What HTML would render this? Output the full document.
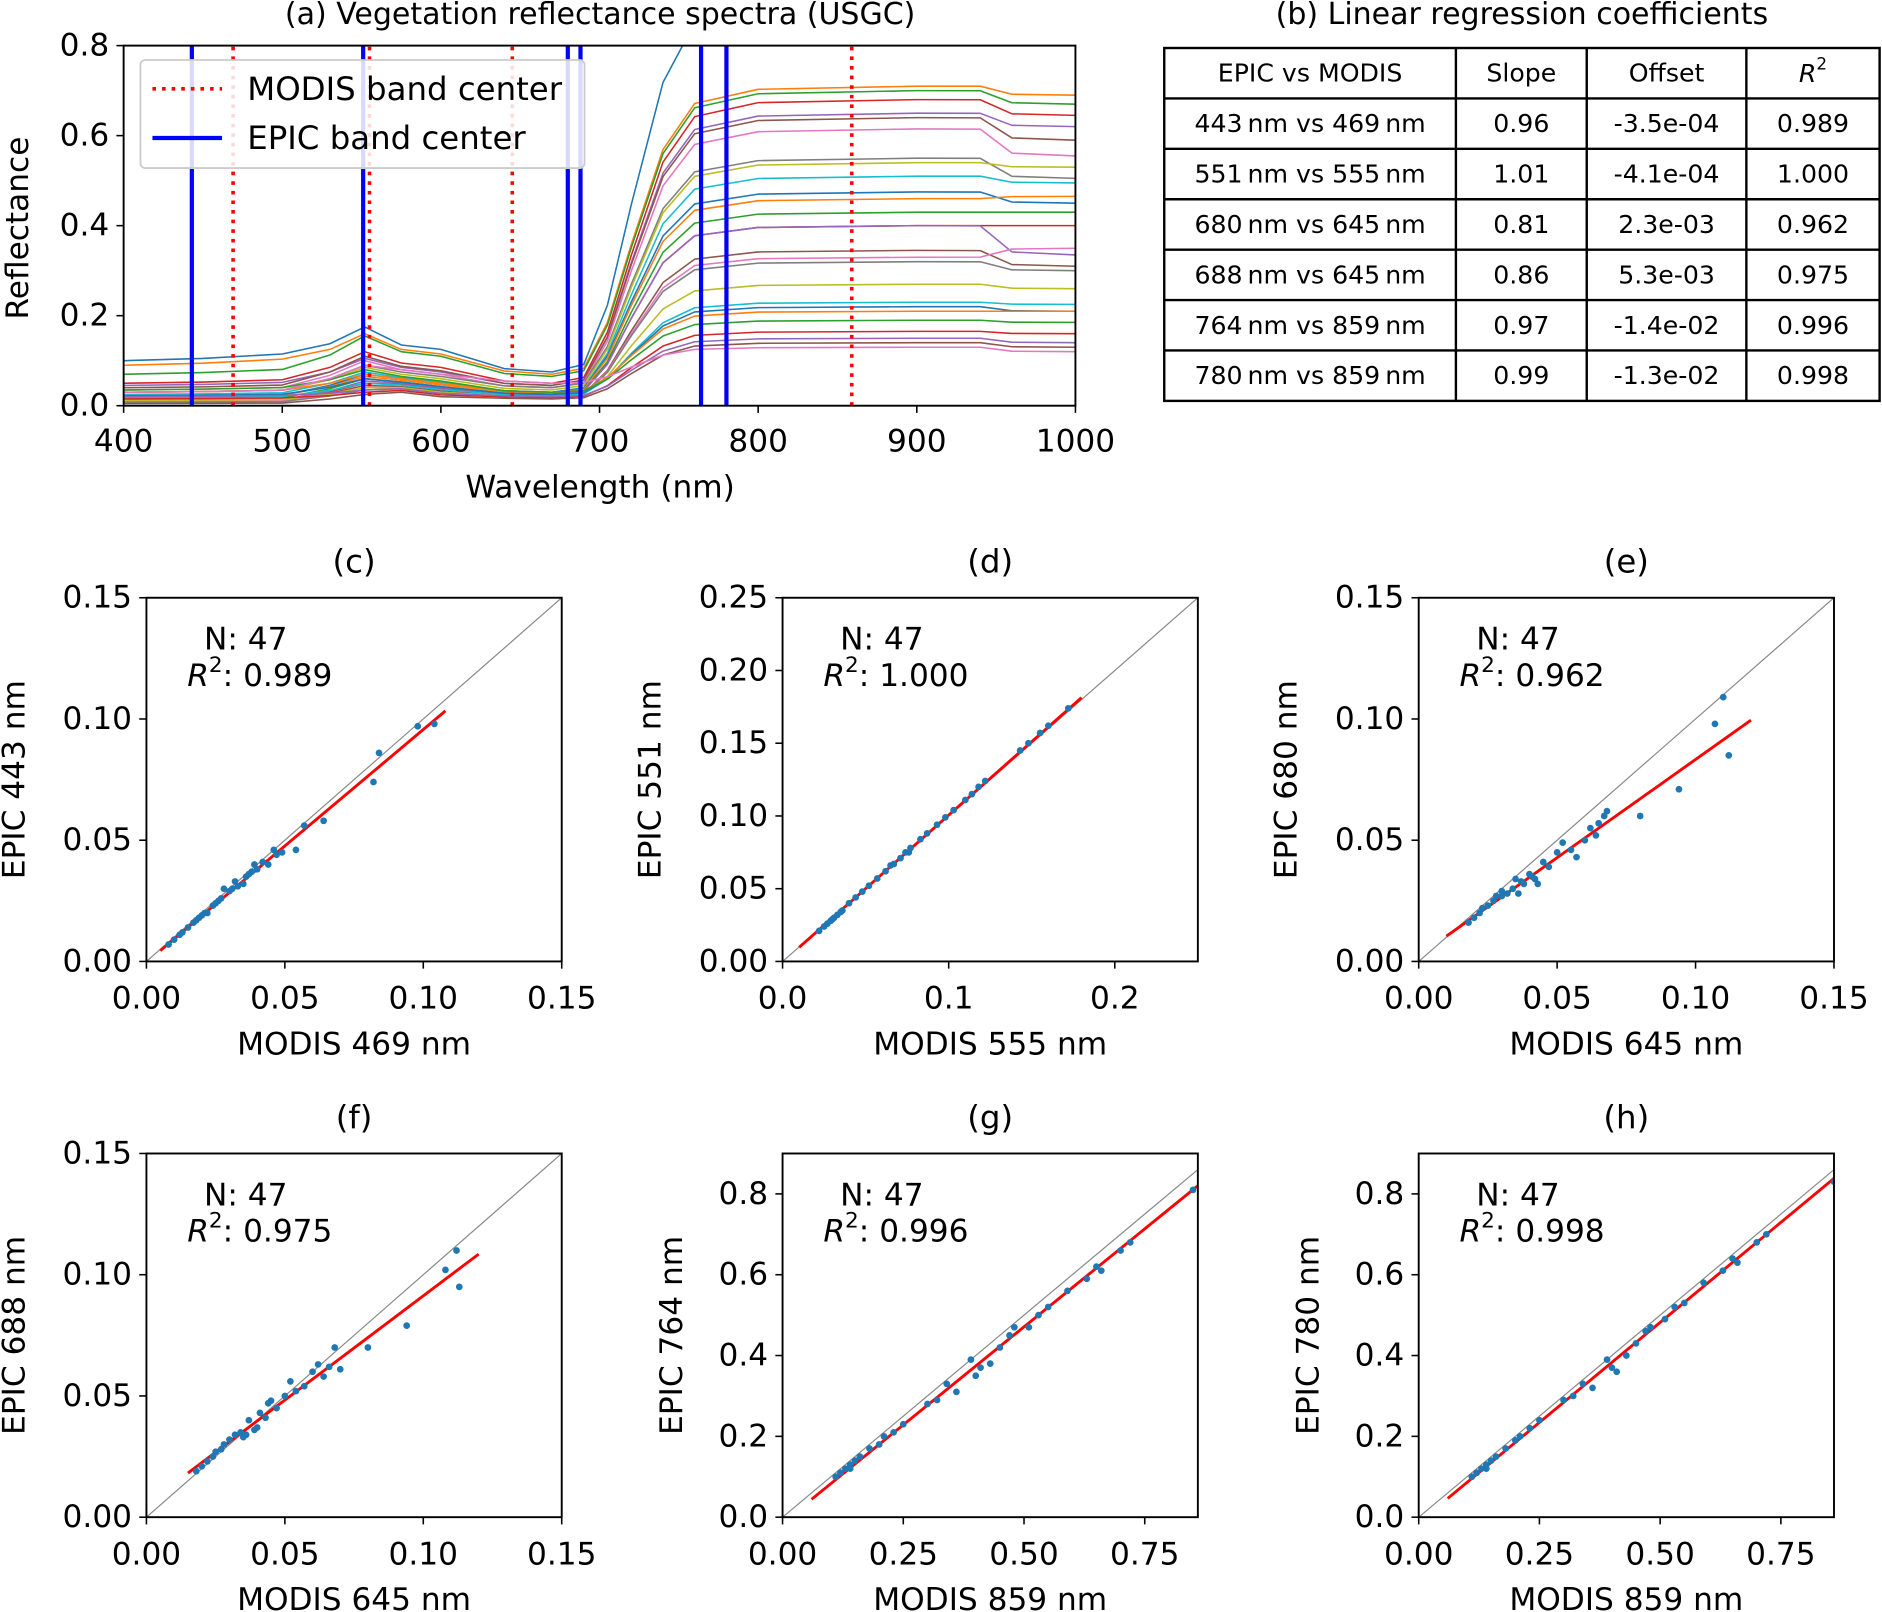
<!DOCTYPE html>
<html><head><meta charset="utf-8"><style>
html,body{margin:0;padding:0;background:#fff;}
svg{display:block;font-family:"DejaVu Sans","Liberation Sans",sans-serif;}
</style></head><body>
<svg id="fig" width="1882" height="1612" viewBox="0 0 1568 1343" preserveAspectRatio="none" xmlns="http://www.w3.org/2000/svg"></svg>
<script>
// ---------- Panel (a) data ----------
const specBlue  = [0.10,0.09,0.07,0.05,0.045,0.04,0.035,0.03,0.03,0.025,0.02,0.02,0.015,0.012,0.01,0.01,0.01,0.008,0.012,0.018,0.022,0.03,0.035,0.015,0.02,0.005,0.03];
const specGreen = [0.175,0.16,0.155,0.12,0.105,0.11,0.10,0.09,0.085,0.075,0.07,0.065,0.06,0.05,0.055,0.045,0.04,0.035,0.04,0.05,0.06,0.07,0.08,0.03,0.035,0.025,0.09];
const specRed   = [0.075,0.07,0.065,0.05,0.045,0.045,0.04,0.04,0.035,0.03,0.03,0.028,0.025,0.025,0.025,0.02,0.02,0.02,0.02,0.022,0.025,0.03,0.03,0.018,0.02,0.015,0.05];
const specNir   = [0.9,0.71,0.70,0.68,0.65,0.64,0.615,0.55,0.54,0.51,0.475,0.46,0.43,0.40,0.40,0.345,0.33,0.32,0.27,0.23,0.22,0.21,0.19,0.165,0.15,0.14,0.13];
const specEnd   = [0.9,0.69,0.67,0.645,0.62,0.59,0.555,0.505,0.53,0.495,0.45,0.465,0.43,0.40,0.335,0.31,0.35,0.30,0.26,0.225,0.21,0.21,0.185,0.16,0.14,0.13,0.12];
const modisBands = [469,555,645,859];
const epicBands  = [443,551,680,688,764,780];
const axAXTicks = [400,500,600,700,800,900,1000];
const axAYTicks = [0.0,0.2,0.4,0.6,0.8];
// ---------- Table ----------
const tabRows = [
 ["443\u2009nm vs 469\u2009nm","0.96","-3.5e-04","0.989"],
 ["551\u2009nm vs 555\u2009nm","1.01","-4.1e-04","1.000"],
 ["680\u2009nm vs 645\u2009nm","0.81","2.3e-03","0.962"],
 ["688\u2009nm vs 645\u2009nm","0.86","5.3e-03","0.975"],
 ["764\u2009nm vs 859\u2009nm","0.97","-1.4e-02","0.996"],
 ["780\u2009nm vs 859\u2009nm","0.99","-1.3e-02","0.998"]];
// ---------- Scatter data ----------
const cX=[0.008,0.010,0.012,0.013,0.015,0.017,0.018,0.020,0.022,0.024,0.025,0.027,0.028,0.030,0.032,0.033,0.035,0.036,0.038,0.039,0.040,0.042,0.044,0.046,0.047,0.049,0.054,0.057,0.064,0.082,0.084,0.098,0.104,0.019,0.021,0.026,0.031,0.037];
const cY=[0.007,0.009,0.011,0.012,0.014,0.016,0.017,0.019,0.020,0.023,0.024,0.026,0.030,0.029,0.033,0.031,0.032,0.035,0.037,0.040,0.038,0.041,0.040,0.046,0.044,0.045,0.046,0.056,0.058,0.074,0.086,0.097,0.098,0.018,0.020,0.025,0.030,0.036];
const dX=[0.022,0.025,0.027,0.029,0.031,0.033,0.036,0.040,0.044,0.048,0.052,0.057,0.062,0.067,0.071,0.074,0.077,0.083,0.087,0.093,0.098,0.103,0.110,0.114,0.118,0.122,0.143,0.148,0.155,0.160,0.172,0.030,0.035,0.076,0.065];
const dY=[0.021,0.024,0.026,0.028,0.030,0.032,0.035,0.040,0.044,0.048,0.052,0.057,0.062,0.067,0.071,0.075,0.078,0.084,0.088,0.094,0.099,0.104,0.111,0.115,0.120,0.124,0.145,0.150,0.157,0.162,0.174,0.029,0.034,0.075,0.066];
const eX=[0.018,0.020,0.022,0.023,0.025,0.027,0.028,0.030,0.032,0.034,0.035,0.037,0.038,0.040,0.041,0.042,0.043,0.045,0.047,0.050,0.052,0.055,0.057,0.060,0.062,0.064,0.065,0.067,0.068,0.080,0.094,0.107,0.110,0.112,0.036,0.030];
const eY=[0.016,0.018,0.020,0.022,0.023,0.025,0.027,0.029,0.028,0.030,0.034,0.033,0.032,0.036,0.035,0.034,0.032,0.041,0.039,0.045,0.049,0.046,0.043,0.050,0.055,0.052,0.057,0.060,0.062,0.060,0.071,0.098,0.109,0.085,0.028,0.027];
const fX=[0.018,0.020,0.022,0.024,0.025,0.027,0.028,0.030,0.032,0.034,0.035,0.037,0.039,0.040,0.041,0.043,0.045,0.047,0.050,0.052,0.054,0.057,0.060,0.062,0.064,0.066,0.068,0.070,0.080,0.094,0.108,0.112,0.113,0.036,0.044];
const fY=[0.019,0.021,0.023,0.025,0.027,0.028,0.030,0.032,0.034,0.035,0.033,0.040,0.036,0.037,0.043,0.041,0.048,0.045,0.050,0.056,0.052,0.054,0.060,0.063,0.058,0.062,0.070,0.061,0.070,0.079,0.102,0.110,0.095,0.034,0.047];
const gX=[0.11,0.12,0.13,0.14,0.15,0.16,0.18,0.20,0.21,0.23,0.25,0.30,0.32,0.34,0.36,0.39,0.40,0.41,0.43,0.45,0.47,0.48,0.51,0.53,0.55,0.59,0.63,0.65,0.66,0.70,0.72,0.85,0.12,0.14];
const gY=[0.10,0.11,0.12,0.13,0.14,0.15,0.17,0.18,0.20,0.21,0.23,0.28,0.29,0.33,0.31,0.39,0.35,0.37,0.38,0.42,0.45,0.47,0.47,0.50,0.52,0.56,0.59,0.62,0.61,0.66,0.68,0.81,0.11,0.12];
const hX=[0.11,0.12,0.13,0.14,0.15,0.16,0.18,0.20,0.21,0.23,0.25,0.30,0.32,0.34,0.36,0.39,0.40,0.41,0.43,0.45,0.47,0.48,0.51,0.53,0.55,0.59,0.63,0.65,0.66,0.70,0.72,0.86,0.12,0.14];
const hY=[0.10,0.11,0.12,0.13,0.14,0.15,0.17,0.19,0.20,0.22,0.24,0.29,0.30,0.33,0.32,0.39,0.37,0.36,0.40,0.43,0.46,0.47,0.49,0.52,0.53,0.58,0.61,0.64,0.63,0.68,0.70,0.83,0.11,0.12];

const NS="http://www.w3.org/2000/svg";
const svg=document.getElementById('fig');
const FS=26;
function el(tag,attrs,parent){
  const e=document.createElementNS(NS,tag);
  for(const k in attrs) e.setAttribute(k,attrs[k]);
  (parent||svg).appendChild(e);
  return e;
}
function txt(x,y,s,size,anchor,parent,extra){
  const t=el('text',Object.assign({x:x,y:y,'font-size':size,'text-anchor':anchor||'middle','dominant-baseline':'central',fill:'#000'},extra||{}),parent);
  t.textContent=s;
  return t;
}
const colors=['#1f77b4','#ff7f0e','#2ca02c','#d62728','#9467bd','#8c564b','#e377c2','#7f7f7f','#bcbd22','#17becf'];

// ---------- Panel (a) ----------
const A={x0:103,x1:896,y0:338,y1:38};
const ax=w=>A.x0+(w-400)/600*(A.x1-A.x0);
const ay=v=>A.y0-v/0.8*(A.y0-A.y1);
const gA=el('g',{});


const clipA=el('clipPath',{id:'clipA'},gA);
el('rect',{x:A.x0,y:A.y1,width:A.x1-A.x0,height:A.y0-A.y1},clipA);
const curvesG=el('g',{'clip-path':'url(#clipA)'},gA);
const wl=[400,450,500,530,552,575,600,640,670,690,705,720,740,760,800,900,940,960,1000];
for(let i=0;i<specNir.length;i++){
  const b=specBlue[i],g=specGreen[i],r=specRed[i],n=specNir[i],e=specEnd[i];
  const vals=[b,b*1.05,b*1.15,(b+g)/2,g,(g+r)/2+0.01,(g+r)/2,r*1.1,r,r+0.02*(n-r),r+0.18*(n-r),r+0.45*(n-r),r+0.78*(n-r),r+0.94*(n-r),n*0.99,n,n*0.99+e*0.01,(n+e)/2+(e-n)*0.4,e];
  const pts=wl.map((w,k)=>ax(w).toFixed(1)+','+ay(vals[k]).toFixed(1)).join(' ');
  const p=el('polyline',{points:pts,fill:'none',stroke:colors[i%10],'stroke-width':1.3,'stroke-linejoin':'round'},curvesG);
  
  
}
modisBands.forEach(w=>{
  const l=el('line',{x1:ax(w),x2:ax(w),y1:A.y0,y2:A.y1,stroke:'#ff0000','stroke-width':3,'stroke-dasharray':'3,5'},gA);
  
  
});
epicBands.forEach(w=>{
  const l=el('line',{x1:ax(w),x2:ax(w),y1:A.y0,y2:A.y1,stroke:'#0000ff','stroke-width':3.5},gA);
  
  
});
el('rect',{x:A.x0,y:A.y1,width:A.x1-A.x0,height:A.y0-A.y1,fill:'none',stroke:'#000','stroke-width':1.6},gA);
axAXTicks.forEach(t=>{el('line',{x1:ax(t),x2:ax(t),y1:A.y0,y2:A.y0+6,stroke:'#000','stroke-width':1.3},gA);txt(ax(t),368,String(t),FS,'middle',gA);});
axAYTicks.forEach(t=>{el('line',{x1:A.x0-6,x2:A.x0,y1:ay(t),y2:ay(t),stroke:'#000','stroke-width':1.3},gA);txt(A.x0-12,ay(t),t.toFixed(1),FS,'end',gA);});
const ta=txt(500,12,'(a) Vegetation reflectance spectra (USGC)',25,'middle',gA);


const xta=txt(500,406,'Wavelength (nm)',FS,'middle',gA);


const yta=txt(15,190,'Reflectance',FS,'middle',gA,{transform:'rotate(-90 15 190)'});


const lg=el('g',{},gA);


el('rect',{x:117,y:50,width:370,height:90,rx:4,fill:'#fff','fill-opacity':0.85,stroke:'#ccc','stroke-width':1.5},lg);
el('line',{x1:127,x2:185,y1:74,y2:74,stroke:'#ff0000','stroke-width':3,'stroke-dasharray':'3,5'},lg);
txt(206,74,'MODIS band center',27,'start',lg);
el('line',{x1:127,x2:185,y1:115,y2:115,stroke:'#0000ff','stroke-width':3.5},lg);
txt(206,115,'EPIC band center',27,'start',lg);

// ---------- Table (b) ----------
const gT=el('g',{});


txt(1268,12,'(b) Linear regression coefficients',25,'middle',gT);
const cols=[970,1213,1322,1455,1566];
const rowH=42,ty0=40;
el('rect',{x:970,y:ty0,width:596,height:rowH*7,fill:'none',stroke:'#000','stroke-width':2},gT);
for(let r=1;r<7;r++) el('line',{x1:970,x2:1566,y1:ty0+r*rowH,y2:ty0+r*rowH,stroke:'#000','stroke-width':2},gT);
for(let c=1;c<4;c++) el('line',{x1:cols[c],x2:cols[c],y1:ty0,y2:ty0+7*rowH,stroke:'#000','stroke-width':2},gT);
const hdr=['EPIC vs MODIS','Slope','Offset',''];
hdr.forEach((h,c)=>{ if(h) txt((cols[c]+cols[c+1])/2,ty0+rowH/2,h,21,'middle',gT); });
const rh=el('text',{x:(cols[3]+cols[4])/2,y:ty0+rowH/2,'font-size':21,'text-anchor':'middle','dominant-baseline':'central'},gT);
const rh1=el('tspan',{'font-style':'italic'},rh); rh1.textContent='R';
const rh2=el('tspan',{dy:-8,'font-size':14},rh); rh2.textContent='2';
tabRows.forEach((row,r)=>row.forEach((v,c)=>txt((cols[c]+cols[c+1])/2,ty0+(r+1.5)*rowH,v,21,'middle',gT)));

// ---------- Scatter panels ----------
const panels=[
 {id:'c',x0:122,y0:801,xs:cX,ys:cY,max:0.15,ymax:0.15,xt:[0,0.05,0.10,0.15],xl:['0.00','0.05','0.10','0.15'],yt:[0,0.05,0.10,0.15],yl:['0.00','0.05','0.10','0.15'],s:0.96,o:-0.00035,l0:0.005,l1:0.108,r2:'0.989',xlab:'MODIS 469 nm',ylab:'EPIC 443 nm',yx:12},
 {id:'d',x0:652,y0:801,xs:dX,ys:dY,max:0.25,ymax:0.25,xt:[0,0.1,0.2],xl:['0.0','0.1','0.2'],yt:[0,0.05,0.10,0.15,0.20,0.25],yl:['0.00','0.05','0.10','0.15','0.20','0.25'],s:1.01,o:-0.00041,l0:0.01,l1:0.18,r2:'1.000',xlab:'MODIS 555 nm',ylab:'EPIC 551 nm',yx:542},
 {id:'e',x0:1182,y0:801,xs:eX,ys:eY,max:0.15,ymax:0.15,xt:[0,0.05,0.10,0.15],xl:['0.00','0.05','0.10','0.15'],yt:[0,0.05,0.10,0.15],yl:['0.00','0.05','0.10','0.15'],s:0.81,o:0.0023,l0:0.01,l1:0.12,r2:'0.962',xlab:'MODIS 645 nm',ylab:'EPIC 680 nm',yx:1072},
 {id:'f',x0:122,y0:1264,xs:fX,ys:fY,max:0.15,ymax:0.15,xt:[0,0.05,0.10,0.15],xl:['0.00','0.05','0.10','0.15'],yt:[0,0.05,0.10,0.15],yl:['0.00','0.05','0.10','0.15'],s:0.86,o:0.0053,l0:0.015,l1:0.12,r2:'0.975',xlab:'MODIS 645 nm',ylab:'EPIC 688 nm',yx:12},
 {id:'g',x0:652,y0:1264,xs:gX,ys:gY,max:0.86,ymax:0.9,xt:[0,0.25,0.5,0.75],xl:['0.00','0.25','0.50','0.75'],yt:[0,0.2,0.4,0.6,0.8],yl:['0.0','0.2','0.4','0.6','0.8'],s:0.97,o:-0.014,l0:0.06,l1:0.9,r2:'0.996',xlab:'MODIS 859 nm',ylab:'EPIC 764 nm',yx:560},
 {id:'h',x0:1182,y0:1264,xs:hX,ys:hY,max:0.86,ymax:0.9,xt:[0,0.25,0.5,0.75],xl:['0.00','0.25','0.50','0.75'],yt:[0,0.2,0.4,0.6,0.8],yl:['0.0','0.2','0.4','0.6','0.8'],s:0.99,o:-0.013,l0:0.06,l1:0.9,r2:'0.998',xlab:'MODIS 859 nm',ylab:'EPIC 780 nm',yx:1090}];
const W=346,H=303;
panels.forEach(P=>{
  const g=el('g',{});
  
  
  const sx=v=>P.x0+v/P.max*W, sy=v=>P.y0-v/P.ymax*H;
  const cid='clip'+P.id;
  const cp=el('clipPath',{id:cid},g);
  el('rect',{x:P.x0,y:P.y0-H,width:W,height:H},cp);
  const inner=el('g',{'clip-path':'url(#'+cid+')'},g);
  el('line',{x1:sx(0),y1:sy(0),x2:sx(1),y2:sy(1),stroke:'#888','stroke-width':1},inner);
  const rl=el('line',{x1:sx(P.l0),y1:sy(P.s*P.l0+P.o),x2:sx(P.l1),y2:sy(P.s*P.l1+P.o),stroke:'#ff0000','stroke-width':2.4},inner);
  
  
  P.xs.forEach((v,i)=>{
    const c=el('circle',{cx:sx(v),cy:sy(P.ys[i]),r:2.8,fill:'#1f77b4'},inner);
    
    
  });
  el('rect',{x:P.x0,y:P.y0-H,width:W,height:H,fill:'none',stroke:'#000','stroke-width':1.6},g);
  P.xt.forEach((t,i)=>{el('line',{x1:sx(t),x2:sx(t),y1:P.y0,y2:P.y0+6,stroke:'#000','stroke-width':1.3},g);txt(sx(t),P.y0+31,P.xl[i],FS,'middle',g);});
  P.yt.forEach((t,i)=>{el('line',{x1:P.x0-6,x2:P.x0,y1:sy(t),y2:sy(t),stroke:'#000','stroke-width':1.3},g);txt(P.x0-12,sy(t),P.yl[i],FS,'end',g);});
  const pt=txt(P.x0+W/2,P.y0-H-30,'('+P.id+')',27,'middle',g);
  
  
  const xt=txt(P.x0+W/2,P.y0+69,P.xlab,FS,'middle',g);
  
  
  const yt=txt(P.yx,P.y0-H/2,P.ylab,FS,'middle',g,{transform:'rotate(-90 '+P.yx+' '+(P.y0-H/2)+')'});
  
  
  txt(P.x0+48,P.y0-H+35,'N: 47',FS,'start',g);
  const r2=el('text',{x:P.x0+34,y:P.y0-H+65,'font-size':FS,'dominant-baseline':'central'},g);
  const a1=el('tspan',{'font-style':'italic'},r2); a1.textContent='R';
  const a2=el('tspan',{dy:-9,'font-size':18},r2); a2.textContent='2';
  const a3=el('tspan',{dy:9},r2); a3.textContent=': '+P.r2;
});
</script>
</body></html>
